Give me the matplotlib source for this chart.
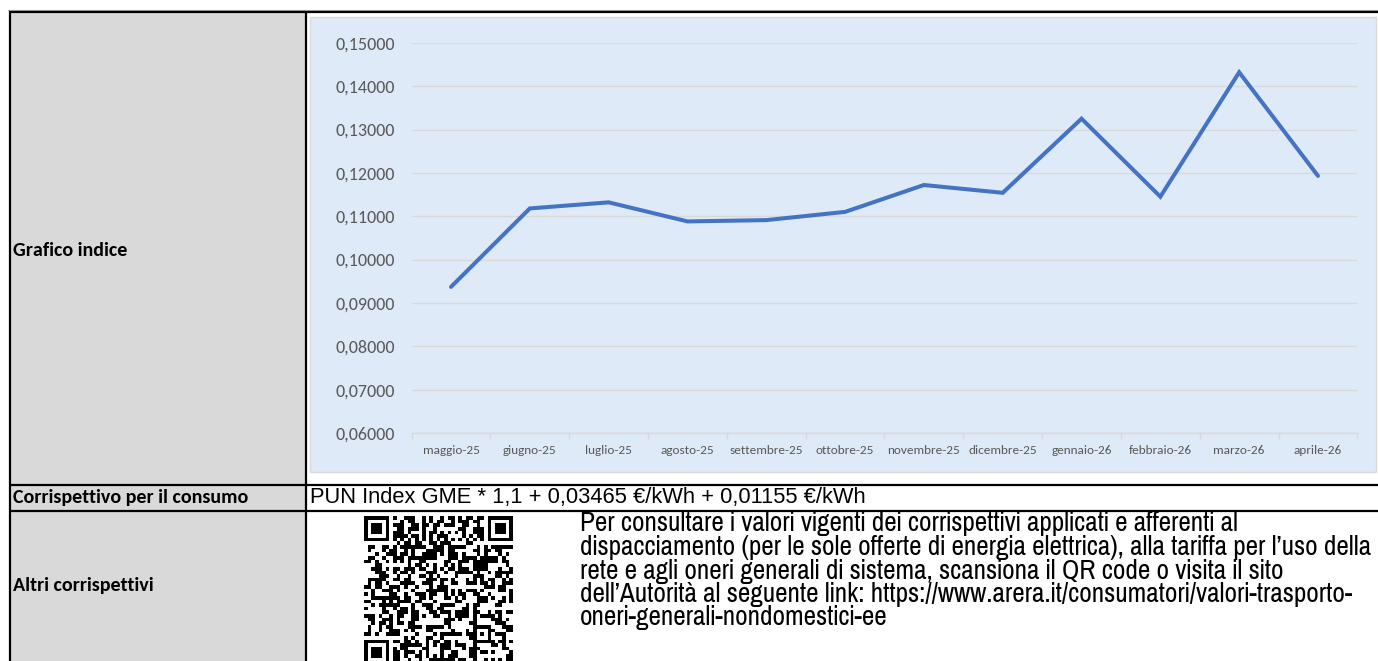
import matplotlib
matplotlib.use('Agg')
import matplotlib.pyplot as plt
from matplotlib import font_manager
from matplotlib.font_manager import FontProperties
from matplotlib.textpath import TextPath
from matplotlib.patches import Rectangle
from matplotlib.ticker import FixedLocator, FuncFormatter, NullFormatter
import numpy as np
import hashlib

# ---------------- data ----------------
months = ['maggio-25', 'giugno-25', 'luglio-25', 'agosto-25', 'settembre-25', 'ottobre-25',
          'novembre-25', 'dicembre-25', 'gennaio-26', 'febbraio-26', 'marzo-26', 'aprile-26']
values = [0.0937, 0.1118, 0.1132, 0.1088, 0.1091, 0.1110,
          0.1172, 0.1154, 0.1325, 0.1145, 0.1432, 0.1193]
y_ticks = [0.06, 0.07, 0.08, 0.09, 0.10, 0.11, 0.12, 0.13, 0.14, 0.15]

row_labels = ['Grafico indice', 'Corrispettivo per il consumo', 'Altri corrispettivi']
formula = 'PUN Index GME * 1,1 + 0,03465 €/kWh + 0,01155 €/kWh'
info_lines = [
    'Per consultare i valori vigenti dei corrispettivi applicati e afferenti al',
    'dispacciamento (per le sole offerte di energia elettrica), alla tariffa per l’uso della',
    'rete e agli oneri generali di sistema, scansiona il QR code o visita il sito',
    'dell’Autorità al seguente link: https://www.arera.it/consumatori/valori-trasporto-',
    'oneri-generali-nondomestici-ee',
]

# ---------------- setup ----------------
W, H = 1378, 661
fig = plt.figure(figsize=(W / 100, H / 100), dpi=100)
names = {f.name for f in font_manager.fontManager.ttflist}


def pick(*cands):
    for n in cands:
        if n in names:
            return n
    return 'DejaVu Sans'


F_CAL = pick('Carlito', 'Lato', 'Open Sans')
F_ARIAL = pick('Liberation Sans', 'Arimo', 'DejaVu Sans')


def ratio(fam, text):
    fp = FontProperties(family=fam)
    w = TextPath((0, 0), text, size=10, prop=fp).get_extents().width
    h = TextPath((0, 0), 'H', size=10, prop=fp).get_extents().height
    return w / h


# choose the available font whose width/cap-height proportion best matches Arial Narrow
if 'Liberation Sans Narrow' in names:
    F_NARROW = 'Liberation Sans Narrow'
else:
    target = 0.82 * ratio(F_ARIAL, info_lines[1])
    cands = [c for c in ['PT Sans Narrow', 'Archivo Narrow', 'Roboto Condensed', 'IBM Plex Sans Condensed',
                         'Fira Sans Condensed', 'Encode Sans Condensed', 'Sofia Sans Condensed',
                         'Barlow Semi Condensed', 'Asap Condensed', 'Pragati Narrow'] if c in names]
    best, bd = F_ARIAL, 1e9
    for c in cands:
        try:
            d = abs(ratio(c, info_lines[1]) - target)
        except Exception:
            continue
        if d < bd:
            best, bd = c, d
    F_NARROW = best

bg = fig.add_axes([0, 0, 1, 1])
bg.set_xlim(0, W)
bg.set_ylim(H, 0)
bg.axis('off')
bg.set_zorder(0)
renderer = fig.canvas.get_renderer()


def size_for(text, family, target, weight='normal'):
    t = bg.text(0, 0, text, fontsize=10, family=family, weight=weight)
    w = t.get_window_extent(renderer).width
    t.remove()
    return 10 * target / w


# ---------------- table background ----------------
bg.add_patch(Rectangle((10, 11), 296, H, fc='#D9D9D9', ec='none'))
bg.add_patch(Rectangle((310, 17), 1066, 455, fc='#DEEAF7', ec='#D9D9D9', lw=1))

bg.plot([8, W], [9.5, 9.5], color='#A6A6A6', lw=0.8)
bg.plot([9, W], [11.5, 11.5], color='black', lw=1.6, solid_capstyle='butt')
bg.plot([10, 10], [11, H], color='black', lw=1.6, solid_capstyle='butt')
bg.plot([306, 306], [11, H], color='black', lw=1.6, solid_capstyle='butt')
bg.plot([9, W], [484.5, 484.5], color='black', lw=1.6, solid_capstyle='butt')
bg.plot([9, W], [510.5, 510.5], color='black', lw=1.6, solid_capstyle='butt')

# ---------------- texts ----------------
s_lab = size_for(row_labels[1], F_CAL, 235, 'bold')
for lab, y in zip(row_labels, [250, 497, 586]):
    bg.text(13, y, lab, fontsize=s_lab, family=F_CAL, weight='bold', va='center', ha='left', color='black')

s_form = size_for(formula, F_ARIAL, 556)
bg.text(310, 497, formula, fontsize=s_form, family=F_ARIAL, va='center', ha='left', color='black')

s_info = size_for(info_lines[1], F_NARROW, 792)
for k, line in enumerate(info_lines):
    bg.text(580, 524 + 23.5 * k, line, fontsize=s_info, family=F_NARROW, va='center', ha='left', color='black')

# ---------------- QR-like code (decorative) ----------------
N = 41
digest = b''
seed = 'https://www.arera.it/consumatori/valori-trasporto-oneri-generali-nondomestici-ee'.encode()
k = 0
while len(digest) * 8 < N * N:
    digest += hashlib.sha256(seed + bytes([k])).digest()
    k += 1
bits = np.unpackbits(np.frombuffer(digest, dtype=np.uint8))[:N * N]
q = bits.reshape(N, N).astype(bool)
for r in range(N):
    q[6, r] = (r % 2 == 0)
    q[r, 6] = (r % 2 == 0)


def finder(r0, c0):
    q[max(r0 - 1, 0):r0 + 8, max(c0 - 1, 0):c0 + 8] = False
    q[r0:r0 + 7, c0:c0 + 7] = True
    q[r0 + 1:r0 + 6, c0 + 1:c0 + 6] = False
    q[r0 + 2:r0 + 5, c0 + 2:c0 + 5] = True


finder(0, 0)
finder(0, N - 7)
finder(N - 7, 0)
a = N - 9
q[a - 2:a + 3, a - 2:a + 3] = True
q[a - 1:a + 2, a - 1:a + 2] = False
q[a, a] = True

qx0, qy0, qs = 364, 516, 149
axq = fig.add_axes([qx0 / W, 1 - (qy0 + qs) / H, qs / W, qs / H])
axq.imshow(q, cmap='gray_r', interpolation='nearest', aspect='auto')
axq.axis('off')
axq.set_zorder(1)

# ---------------- chart ----------------
n = len(months)
px_left, px_right = 411.6, 1357.4
px_top, px_bot = 42.8, 433.0
ax = fig.add_axes([px_left / W, 1 - px_bot / H, (px_right - px_left) / W, (px_bot - px_top) / H])
ax.set_zorder(2)
ax.patch.set_alpha(0)
x = np.arange(n)
ax.plot(x, values, color='#4472C4', lw=2.9, solid_joinstyle='miter', solid_capstyle='round', zorder=3)
ax.set_xlim(-0.5, n - 0.5)
ax.set_ylim(y_ticks[0], y_ticks[-1])

ax.yaxis.set_major_locator(FixedLocator(y_ticks))
ax.yaxis.set_major_formatter(FuncFormatter(lambda v, p: f'{v:.5f}'.replace('.', ',')))
ax.grid(axis='y', color='#D9D9D9', lw=1.0)
ax.set_axisbelow(True)

ax.xaxis.set_major_locator(FixedLocator(x))
ax.set_xticklabels(months)
ax.xaxis.set_minor_locator(FixedLocator(np.arange(-0.5, n, 1.0)))
ax.xaxis.set_minor_formatter(NullFormatter())

for s in ['top', 'right', 'left']:
    ax.spines[s].set_visible(False)
ax.spines['bottom'].set_color('#D9D9D9')
ax.spines['bottom'].set_linewidth(1.0)

s_yt = size_for('0,15000', F_CAL, 60)
s_xt = size_for('maggio-25', F_CAL, 57)
ax.tick_params(axis='y', length=0, pad=12, labelsize=s_yt, labelcolor='#595959')
ax.tick_params(axis='x', which='major', length=0, pad=9, labelsize=s_xt, labelcolor='#595959')
ax.tick_params(axis='x', which='minor', length=4, width=1.0, color='#D9D9D9', direction='out')
for t in ax.get_xticklabels() + ax.get_yticklabels():
    t.set_family(F_CAL)

fig.savefig('out.png', dpi=100)
